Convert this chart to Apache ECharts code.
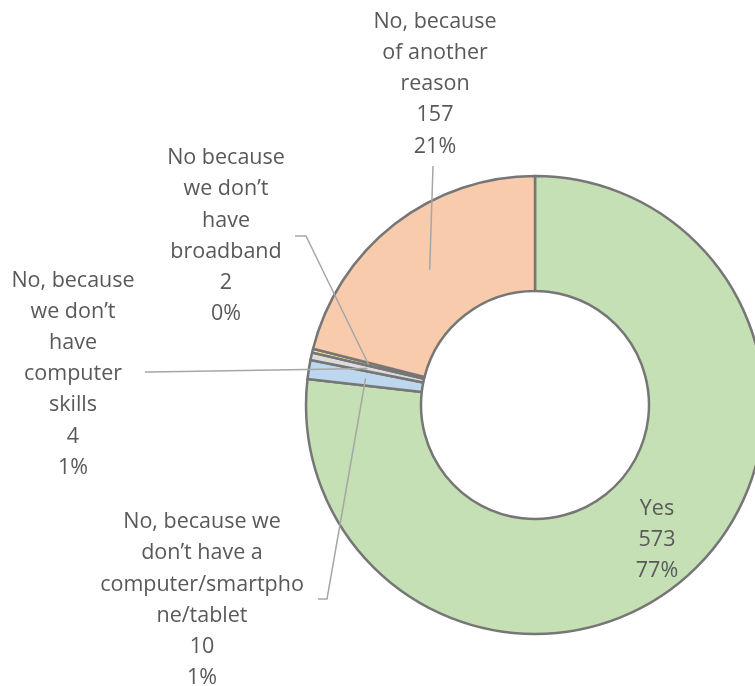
<!DOCTYPE html>
<html>
<head>
<meta charset="utf-8">
<script src="https://cdn.jsdelivr.net/npm/echarts@6/dist/echarts.min.js"></script>
<style>
  html, body { margin: 0; padding: 0; background: #ffffff; }
  #chart { width: 755px; height: 686px; }
</style>
</head>
<body>
<div id="chart"></div>
<script>
// Survey answers, in slice order (clockwise from 12 o'clock)
const categories = [
  'Yes',
  'No, because we\ndon’t have a\ncomputer/smartpho\nne/tablet',
  'No, because\nwe don’t\nhave\ncomputer\nskills',
  'No because\nwe don’t\nhave\nbroadband',
  'No, because\nof another\nreason'
];
const counts = [573, 10, 4, 2, 157];
const sliceColors = ['#C5E0B4', '#BDD7EE', '#DBDBDB', '#FFE699', '#F8CBAD'];

// Ring geometry
const CX = 535, CY = 405, R_IN = 114, R_OUT = 229;

// Where each label block sits, and the elbow of its leader line
const labelSpots = [
  { x: 657, y: 540, line: false },
  { x: 202, y: 600, start: [318, 599], elbow: [327, 599], line: true },
  { x: 73,  y: 374, start: [145, 372], elbow: [150, 372], line: true },
  { x: 226, y: 236, start: [295, 236], elbow: [306, 236], line: true },
  { x: 435, y: 84,  start: [433, 166], elbow: null, line: true }
];

// Mid-ring point at each slice's middle angle (clockwise from top)
const total = counts.reduce((a, b) => a + b, 0);
const anchors = [];
let acc = 0;
counts.forEach(v => {
  const mid = (acc + v / 2) / total * Math.PI * 2;
  const r = (R_IN + R_OUT) / 2;
  anchors.push([CX + r * Math.sin(mid), CY - r * Math.cos(mid)]);
  acc += v;
});

const ringBase = {
  type: 'pie',
  center: [CX, CY],
  radius: [R_IN, R_OUT],
  startAngle: 90,
  clockwise: true,
  avoidLabelOverlap: false,
  percentPrecision: 0
};

const chart = echarts.init(document.getElementById('chart'), null, { renderer: 'canvas' });

chart.setOption({
  animation: false,
  backgroundColor: '#ffffff',
  series: [
    // The ring itself
    Object.assign({}, ringBase, {
      z: 2,
      itemStyle: { borderColor: '#767676', borderWidth: 2.5 },
      label: { show: false },
      labelLine: { show: false },
      data: categories.map((name, i) => ({
        name: name,
        value: counts[i],
        itemStyle: { color: sliceColors[i] }
      }))
    }),
    // Transparent twin carrying the labels, so leader lines run over the slices
    Object.assign({}, ringBase, {
      z: 5,
      silent: true,
      itemStyle: { color: 'rgba(0,0,0,0)', borderWidth: 0 },
      label: {
        show: true,
        position: 'outside',
        formatter: '{b}\n{c}\n{d}%',
        color: '#595959',
        fontFamily: 'Open Sans',
        fontSize: 21.5,
        lineHeight: 31.2,
        align: 'center'
      },
      labelLine: {
        show: true,
        lineStyle: { color: '#A6A6A6', width: 1.5 }
      },
      labelLayout: function (params) {
        const i = params.dataIndex;
        const s = labelSpots[i];
        const out = { x: s.x, y: s.y, align: 'center', verticalAlign: 'middle' };
        if (s.line) {
          const a = anchors[i];
          const mid = s.elbow || [(s.start[0] + a[0]) / 2, (s.start[1] + a[1]) / 2];
          out.labelLinePoints = [s.start, mid, a];
        }
        return out;
      },
      data: categories.map((name, i) => ({
        name: name,
        value: counts[i],
        labelLine: { show: labelSpots[i].line }
      }))
    })
  ]
});
</script>
</body>
</html>
